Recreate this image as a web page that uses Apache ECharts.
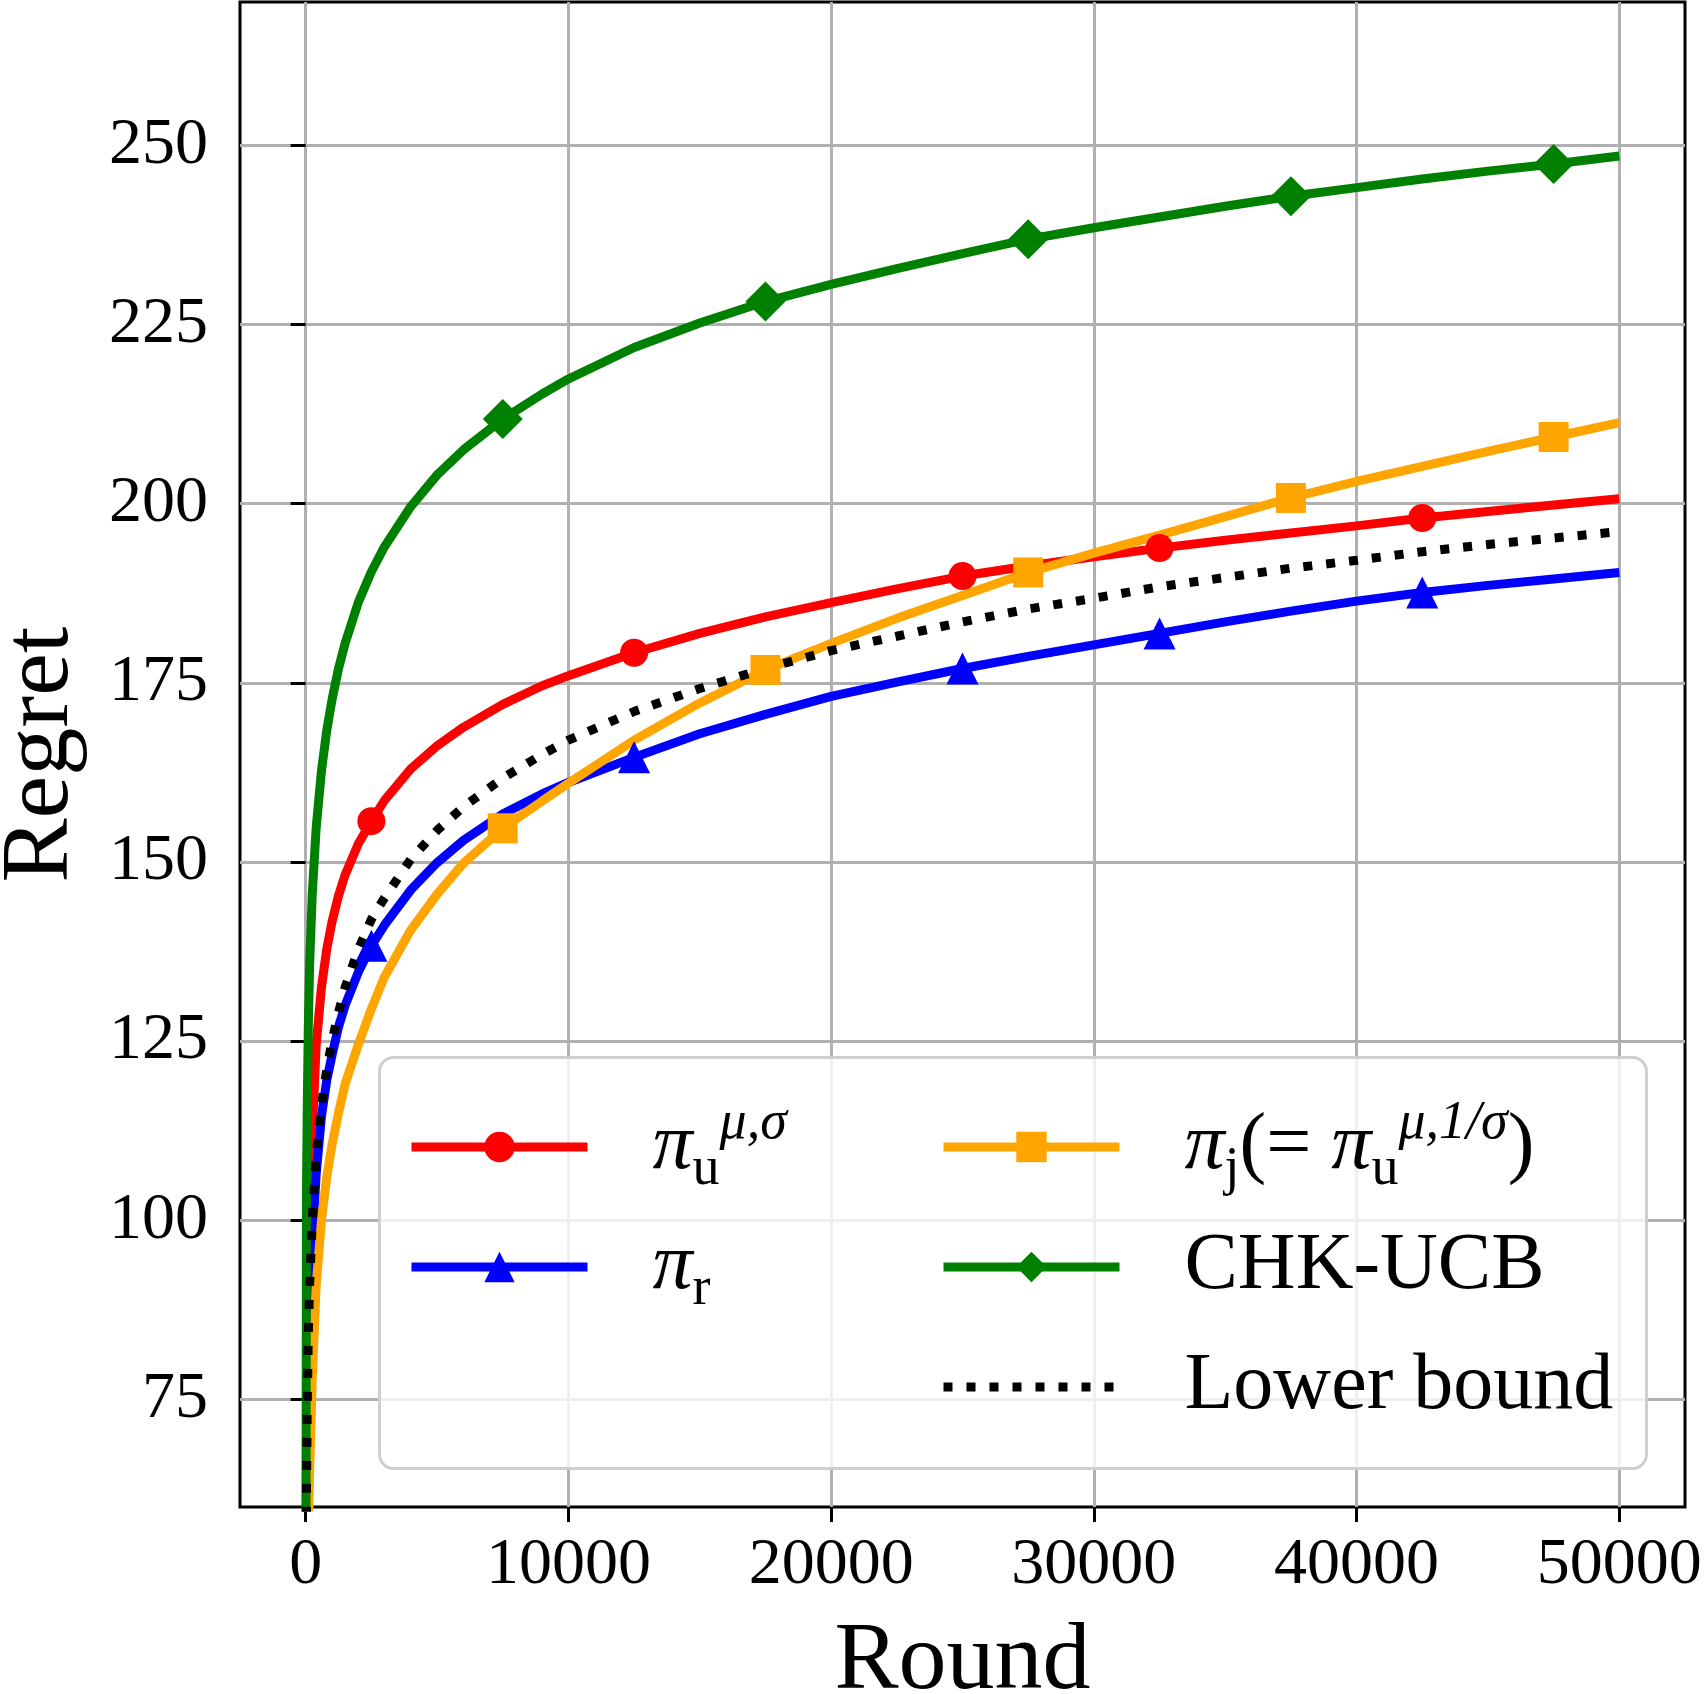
<!DOCTYPE html>
<html>
<head>
<meta charset="utf-8">
<script src="https://cdn.jsdelivr.net/npm/echarts@6/dist/echarts.min.js"></script>
<style>
  html, body { margin: 0; padding: 0; background: #fff; }
  #chart { width: 1704px; height: 1694px; }
</style>
</head>
<body>
<div id="chart"></div>
<script>
const rounds = [1, 30, 60, 100, 150, 250, 400, 600, 800, 1000, 1250, 1500, 2000, 2500, 3000, 4000, 5000, 6000, 7500, 9000, 10000,
  12500, 15000, 17500, 20000, 22500, 25000, 27500, 30000, 32500, 35000, 37500, 40000, 42500, 45000, 47500, 50000]

const regretPiU = [20, 68, 82, 92, 101, 112, 124.5, 132.5, 137.8, 141.6, 145.3, 148.2, 152.5, 155.7, 158.6, 163.0, 166.2, 168.8, 172.0, 174.6, 176.0,
  179.2, 181.9, 184.2, 186.2, 188.1, 189.9, 191.3, 192.6, 193.8, 194.9, 195.9, 196.9, 198.0, 198.9, 199.8, 200.7]
const regretPiR = [15, 62, 74, 84, 90, 97, 106.5, 114.5, 119.5, 123, 127, 130, 134.6, 138.3, 141.2, 146.1, 149.9, 153.0, 156.7, 159.5, 161.1,
  164.6, 167.9, 170.6, 173.1, 175.1, 177.0, 178.7, 180.3, 181.9, 183.5, 185.0, 186.4, 187.6, 188.6, 189.5, 190.4]
const regretPiJ = [10, 40, 50, 56, 65, 78, 91, 100, 106, 110.5, 115, 119, 124.5, 129.5, 134, 140.5, 145.5, 149.8, 154.7, 158.5, 161.0,
  167.0, 172.2, 176.8, 180.5, 184, 187.2, 190.4, 193.1, 195.6, 198.2, 200.8, 203.1, 205.2, 207.3, 209.3, 211.3]
const regretChk = [30, 104, 116, 127, 135.7, 145.5, 154.8, 162.7, 168.3, 172.6, 177, 180.5, 186.2, 190.5, 194, 199.6, 204, 207.5, 211.8, 215.3, 217.4,
  221.8, 225.2, 228.2, 230.6, 232.8, 234.9, 236.9, 238.5, 240.0, 241.5, 242.9, 244.1, 245.3, 246.4, 247.4, 248.5]
const lowerBound = [1, 62, 74, 84, 91, 100, 109, 116, 121, 125, 129, 132.5, 137.8, 142, 145, 150.4, 154.4, 157.7, 161.7, 165, 167,
  171, 174.2, 177, 179.5, 181.5, 183.5, 185.3, 186.8, 188.4, 189.7, 191, 192.1, 193.3, 194.3, 195.2, 196.1]

// rounds that carry a marker
const marksA = [2500, 12500, 25000, 32500, 42500]
const marksB = [7500, 17500, 27500, 37500, 47500]

const xTicks = [0, 10000, 20000, 30000, 40000, 50000]
const yTicks = [75, 100, 125, 150, 175, 200, 225, 250]

const NAME_U = 'π_u^{μ,σ}'
const NAME_R = 'π_r'
const NAME_J = 'π_j(= π_u^{μ,1/σ})'
const NAME_CHK = 'CHK-UCB'
const NAME_LB = 'Lower bound'

const FONT = 'Liberation Serif'
const LW = 9

function points(values, marks, symbol) {
  return rounds.map((r, i) => ({
    value: [r, values[i]],
    symbol: marks.includes(r) ? symbol : 'none',
  }))
}

function lineSeries(name, values, color, symbol, symbolSize, marks) {
  return {
    name,
    type: 'line',
    data: points(values, marks, symbol),
    symbol,
    symbolSize,
    showSymbol: true,
    showAllSymbol: true,
    lineStyle: { color, width: LW },
    itemStyle: { color },
    emphasis: { disabled: true },
  }
}

const legendLabels = {
  [NAME_U]: '{m|π}{sub|u}{sup|μ,σ}',
  [NAME_R]: '{m|π}{sub|r}',
  [NAME_J]: '{m|π}{sub|j}{t|(= }{m|π}{sub|u}{sup|μ,1/σ}{t|)}',
  [NAME_CHK]: NAME_CHK,
  [NAME_LB]: NAME_LB,
}

const legendText = {
  fontFamily: FONT,
  fontSize: 80,
  color: '#000',
  lineHeight: 100,
  padding: [0, 0, 0, 60],
  rich: {
    m: { fontFamily: FONT, fontSize: 80, fontStyle: 'italic', lineHeight: 100, color: '#000' },
    t: { fontFamily: FONT, fontSize: 80, lineHeight: 100, color: '#000' },
    sub: { fontFamily: FONT, fontSize: 54, lineHeight: 44, verticalAlign: 'bottom', color: '#000' },
    sup: { fontFamily: FONT, fontSize: 54, fontStyle: 'italic', lineHeight: 70, verticalAlign: 'top', color: '#000' },
  },
}

function legendAt(left, names) {
  return {
    data: names,
    orient: 'vertical',
    left,
    top: 1097,
    padding: 0,
    itemWidth: 176,
    itemHeight: 38,
    itemGap: 20,
    selectedMode: false,
    z: 10,
    lineStyle: { width: LW },
    formatter: (n) => legendLabels[n],
    textStyle: legendText,
  }
}

const chart = echarts.init(document.getElementById('chart'), null, { renderer: 'canvas' })

chart.setOption({
  animation: false,
  backgroundColor: '#fff',
  grid: {
    left: 240,
    top: 2,
    width: 1445,
    height: 1505,
    show: true,
    borderColor: '#000',
    borderWidth: 3,
    outerBoundsMode: 'none',
  },
  xAxis: {
    type: 'value',
    min: -2500,
    max: 52500,
    name: 'Round',
    nameLocation: 'middle',
    nameGap: 108,
    nameTextStyle: { fontFamily: FONT, fontSize: 96, color: '#000' },
    axisLine: { show: false },
    axisTick: { show: true, length: 15, lineStyle: { color: '#000', width: 3 }, customValues: xTicks },
    axisLabel: {
      customValues: xTicks,
      formatter: (v) => String(v),
      fontFamily: FONT,
      fontSize: 66,
      color: '#000',
      margin: 26,
    },
    splitLine: { show: true, lineStyle: { color: '#b0b0b0', width: 3 } },
  },
  yAxis: {
    type: 'value',
    min: 60,
    max: 270,
    name: 'Regret',
    nameLocation: 'middle',
    nameGap: 150,
    nameTextStyle: { fontFamily: FONT, fontSize: 96, color: '#000' },
    axisLine: { show: false },
    axisTick: { show: true, length: 15, lineStyle: { color: '#000', width: 3 }, customValues: yTicks },
    axisLabel: {
      customValues: yTicks,
      formatter: (v) => String(v),
      fontFamily: FONT,
      fontSize: 66,
      color: '#000',
      margin: 32,
    },
    splitLine: { show: true, lineStyle: { color: '#b0b0b0', width: 3 } },
  },
  legend: [
    legendAt(407, [NAME_U, NAME_R]),
    legendAt(939, [NAME_J, NAME_CHK, NAME_LB]),
  ],
  graphic: [
    {
      type: 'rect',
      left: 378,
      top: 1056,
      z: 5,
      shape: { width: 1267, height: 411, r: 14 },
      style: { fill: 'rgba(255,255,255,0.8)', stroke: '#cfcfcf', lineWidth: 3 },
    },
  ],
  series: [
    lineSeries(NAME_U, regretPiU, '#ff0000', 'circle', 28, marksA),
    lineSeries(NAME_R, regretPiR, '#0000ff', 'triangle', 32, marksA),
    lineSeries(NAME_J, regretPiJ, '#ffa500', 'rect', 30, marksB),
    lineSeries(NAME_CHK, regretChk, '#008000', 'diamond', 40, marksB),
    {
      name: NAME_LB,
      type: 'line',
      data: rounds.map((r, i) => [r, lowerBound[i]]),
      symbol: 'none',
      lineStyle: { color: '#000', width: LW, type: [9, 14], cap: 'butt' },
      // transparent fill keeps the legend icon a plain dotted line
      itemStyle: { color: 'rgba(0,0,0,0)' },
      emphasis: { disabled: true },
    },
  ],
})
</script>
</body>
</html>
